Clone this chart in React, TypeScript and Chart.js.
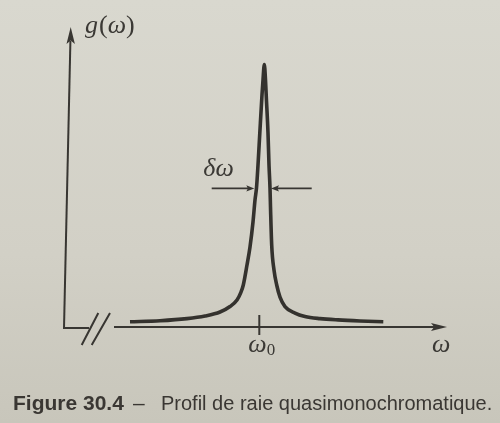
import { useEffect, useRef } from "react";
import { Chart, registerables } from "chart.js";

Chart.register(...registerables);

// ω − ω0 (arbitrary units) and normalised line profile g(ω)
const omega = [
  -12.93, -9.93, -7.23, -5.43, -3.93, -2.93, -2.23, -1.83, -1.6, -1.23, -0.93, -0.63,
  -0.43, -0.28, -0.13, 0.05, 0.27, 0.37, 0.5, 0.62, 0.69, 0.87, 0.97, 1.07, 1.12, 1.24,
  1.47, 1.74, 2.07, 2.57, 3.57, 4.57, 6.07, 7.87, 10.07, 12.4,
];
const g = [
  0.02, 0.024, 0.032, 0.042, 0.057, 0.078, 0.103, 0.133, 0.16, 0.236, 0.305, 0.4,
  0.484, 0.53, 0.617, 0.739, 0.884, 0.941, 1.0, 0.941, 0.884, 0.739, 0.617, 0.53, 0.457, 0.312,
  0.217, 0.16, 0.114, 0.078, 0.053, 0.04, 0.032, 0.027, 0.023, 0.02,
];

const omega0 = 0;
const xRange = [-19.53, 18.77];
const yRange = [0, 1.143];
const fwhmLevel = 0.528;
const fwhmEdges = [-0.5, 1.17];

const yLabel = ["g", "(", "ω", ")"];
const xLabel = "ω";
const tickLabel = ["ω", "0"];
const widthLabel = "δω";
const captionBold = "Figure 30.4";
const captionDash = "–";
const captionText = "Profil de raie quasimonochromatique.";

const INK = "#383632";
const SERIF = '"Liberation Serif", "DejaVu Serif", serif';
const SANS = '"Liberation Sans", Arial, sans-serif';

function arrowHead(ctx: CanvasRenderingContext2D, tx: number, ty: number, dx: number, dy: number, len: number, hw: number) {
  const nx = -dy, ny = dx;
  ctx.beginPath();
  ctx.moveTo(tx, ty);
  ctx.lineTo(tx - dx * len + nx * hw, ty - dy * len + ny * hw);
  ctx.lineTo(tx - dx * len * 0.8, ty - dy * len * 0.8);
  ctx.lineTo(tx - dx * len - nx * hw, ty - dy * len - ny * hw);
  ctx.closePath();
  ctx.fill();
}

const decor = {
  id: "decor",
  beforeDraw(chart: any) {
    const ctx = chart.ctx as CanvasRenderingContext2D;
    const grd = ctx.createLinearGradient(0, 0, 0, chart.height);
    grd.addColorStop(0, "#d9d8cf");
    grd.addColorStop(0.6, "#d2d0c6");
    grd.addColorStop(1, "#c8c6bb");
    ctx.save();
    ctx.fillStyle = grd;
    ctx.fillRect(0, 0, chart.width, chart.height);
    ctx.restore();
  },
  afterDraw(chart: any) {
    const ctx = chart.ctx as CanvasRenderingContext2D;
    const { left, right, top } = chart.chartArea;
    const xs = chart.scales.x;
    const ys = chart.scales.y;
    const y0 = ys.getPixelForValue(0);
    ctx.save();
    ctx.strokeStyle = INK;
    ctx.fillStyle = INK;
    ctx.lineWidth = 2;
    ctx.lineCap = "butt";

    // y axis (slightly slanted like the photographed page) + arrow
    const topX = left + 6.7;
    ctx.beginPath();
    ctx.moveTo(left, y0 + 1);
    ctx.lineTo(topX - 0.3, top + 14);
    ctx.stroke();
    arrowHead(ctx, topX, top, 0, -1, 17, 4.2);

    // corner
    ctx.beginPath();
    ctx.moveTo(left - 1, y0 + 1);
    ctx.lineTo(left + 25, y0 + 1);
    ctx.stroke();

    // axis break //
    ctx.beginPath();
    ctx.moveTo(left + 17.7, y0 + 18);
    ctx.lineTo(left + 34.3, y0 - 14);
    ctx.moveTo(left + 27.7, y0 + 18);
    ctx.lineTo(left + 46, y0 - 14);
    ctx.stroke();

    // x axis + arrow
    ctx.beginPath();
    ctx.moveTo(left + 50, y0);
    ctx.lineTo(right - 12, y0);
    ctx.stroke();
    arrowHead(ctx, right, y0, 1, 0, 16, 4);

    // tick at ω0
    const xp = xs.getPixelForValue(omega0);
    ctx.beginPath();
    ctx.moveTo(xp, y0 - 12);
    ctx.lineTo(xp, y0 + 8);
    ctx.stroke();

    // δω arrows
    const yl = ys.getPixelForValue(fwhmLevel);
    const xl = xs.getPixelForValue(fwhmEdges[0]);
    const xr = xs.getPixelForValue(fwhmEdges[1]);
    ctx.lineWidth = 1.6;
    ctx.beginPath();
    ctx.moveTo(xl - 42.6, yl);
    ctx.lineTo(xl - 5, yl);
    ctx.moveTo(xr + 5, yl);
    ctx.lineTo(xr + 40.7, yl);
    ctx.stroke();
    arrowHead(ctx, xl, yl, 1, 0, 8, 3.2);
    ctx.beginPath();
    arrowHead(ctx, xr, yl, -1, 0, 8, 3.2);

    // text
    ctx.textBaseline = "alphabetic";
    ctx.textAlign = "left";
    ctx.fillStyle = "#3b3935";
    // δω
    ctx.font = `italic 26px ${SERIF}`;
    ctx.fillText(widthLabel, xl - 51, yl - 12);

    // g(ω)
    let gx = left + 21;
    const gy = top + 6;
    yLabel.forEach((s, i) => {
      ctx.font = (i % 2 === 0 ? "italic " : "") + `26px ${SERIF}`;
      ctx.fillText(s, gx, gy);
      gx += ctx.measureText(s).width + (i === 0 ? 1 : 0);
    });

    // ω0
    ctx.font = `italic 26px ${SERIF}`;
    const ox = xp - 11;
    ctx.fillText(tickLabel[0], ox, y0 + 25);
    const ow = ctx.measureText(tickLabel[0]).width;
    ctx.font = `17px ${SERIF}`;
    ctx.fillText(tickLabel[1], ox + ow, y0 + 28);

    // ω
    ctx.font = `italic 26px ${SERIF}`;
    ctx.fillText(xLabel, right - 15, y0 + 25);

    // caption
    ctx.fillStyle = "#3a3733";
    const cy = chart.height - 13;
    ctx.font = `bold 21px ${SANS}`;
    ctx.fillText(captionBold, 13, cy);
    ctx.font = `21px ${SANS}`;
    ctx.fillText(captionDash, 133, cy);
    ctx.font = `20px ${SANS}`;
    ctx.fillText(captionText, 161, cy);

    ctx.restore();
  },
};

export default function App() {
  const ref = useRef<HTMLCanvasElement | null>(null);
  useEffect(() => {
    if (!ref.current) return;
    const chart = new Chart(ref.current, {
      type: "line",
      data: {
        datasets: [
          {
            data: omega.map((w, i) => ({ x: w, y: g[i] })),
            borderColor: "#34322e",
            borderWidth: 3.6,
            pointRadius: 0,
            fill: false,
            cubicInterpolationMode: "monotone",
            clip: 10,
          },
        ],
      },
      options: {
        animation: false,
        responsive: false,
        devicePixelRatio: 1,
        layout: { padding: { left: 64, right: 53, top: 27, bottom: 96 } },
        scales: {
          x: { type: "linear", min: xRange[0], max: xRange[1], display: false },
          y: { type: "linear", min: yRange[0], max: yRange[1], display: false },
        },
        plugins: { legend: { display: false }, tooltip: { enabled: false }, title: { display: false } },
      },
      plugins: [decor],
    } as any);
    return () => chart.destroy();
  }, []);
  return (
    <div style={{ position: "fixed", left: 0, top: 0, width: 500, height: 423 }}>
      <canvas ref={ref} width={500} height={423} style={{ display: "block", width: 500, height: 423 }} />
    </div>
  );
}
